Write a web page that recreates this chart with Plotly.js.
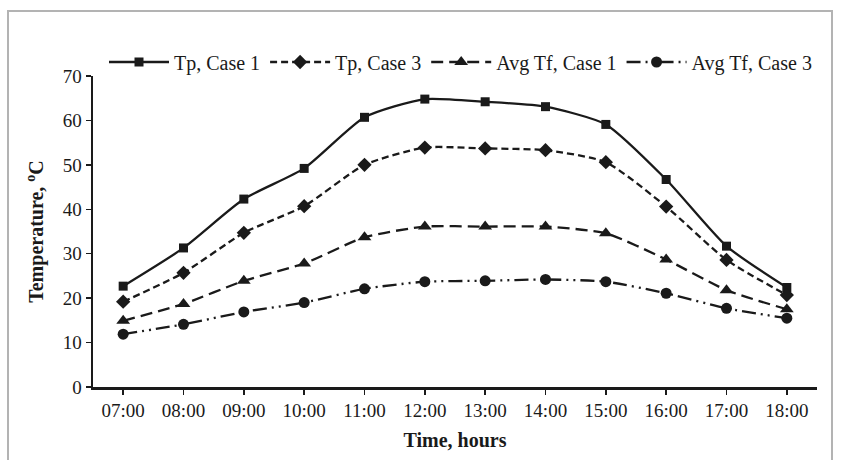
<!DOCTYPE html>
<html>
<head>
<meta charset="utf-8">
<script src="https://cdn.plot.ly/plotly-3.0.1.min.js"></script>
<style>html,body{margin:0;padding:0;background:#fff;}#chart{width:841px;height:460px;}</style>
</head>
<body>
<div id="chart"></div>
<script>
const hours = ["07:00","08:00","09:00","10:00","11:00","12:00","13:00","14:00","15:00","16:00","17:00","18:00"];
const tpCase1 = [22.7, 31.3, 42.3, 49.2, 60.7, 64.8, 64.2, 63.1, 59.1, 46.7, 31.7, 22.4];
const tpCase3 = [19.2, 25.7, 34.7, 40.7, 50.0, 53.9, 53.7, 53.3, 50.6, 40.6, 28.6, 20.7];
const avgTfCase1 = [14.9, 18.7, 23.9, 27.8, 33.7, 36.1, 36.1, 36.1, 34.6, 28.7, 21.8, 17.5];
const avgTfCase3 = [11.9, 14.1, 16.9, 19.0, 22.1, 23.7, 23.9, 24.2, 23.7, 21.1, 17.7, 15.5];
const seriesNames = ["Tp, Case 1", "Tp, Case 3", "Avg Tf, Case 1", "Avg Tf, Case 3"];

const W = 841, H = 460;
const L = 93, R = 24, T = 76, B = 73;
const pw = W - L - R, ph = H - T - B;
const FONT = "Liberation Serif, Times New Roman, serif";

function tr(name, y, dash, symbol, size) {
  return {
    x: hours, y: y, name: name, type: 'scatter', mode: 'lines+markers',
    line: {color: '#1a1a1a', width: 2.3, dash: dash, shape: 'spline', smoothing: 0.6},
    marker: {symbol: symbol, size: size, color: '#1a1a1a'},
    cliponaxis: false
  };
}
const data = [
  tr(seriesNames[0], tpCase1, 'solid', 'square', 9),
  tr(seriesNames[1], tpCase3, '7px,4px', 'diamond', 11),
  tr(seriesNames[2], avgTfCase1, '12px,6px', 'triangle-up', 12),
  tr(seriesNames[3], avgTfCase3, '14px,5px,2px,5px,2px,5px', 'circle', 11)
];

const px2x = p => (p - L) / pw;
const px2y = p => (H - B - p) / ph;

const layout = {
  width: W, height: H,
  margin: {l: L, r: R, t: T, b: B, pad: 0},
  paper_bgcolor: '#fff', plot_bgcolor: '#fff',
  font: {family: FONT, size: 19, color: '#1a1a1a'},
  showlegend: true,
  legend: {orientation: 'h', x: px2x(104), xanchor: 'left', y: px2y(62), yanchor: 'middle',
           font: {family: FONT, size: 20, color: '#1a1a1a'}, itemwidth: 60, traceorder: 'normal',
           bgcolor: 'rgba(0,0,0,0)'},
  xaxis: {
    type: 'category', range: [-0.5, hours.length - 0.5],
    showline: true, linecolor: '#1a1a1a', linewidth: 2.5, mirror: false,
    ticks: 'outside', ticklen: 5, tickwidth: 1.5, tickcolor: '#1a1a1a',
    showgrid: false, zeroline: false,
    tickfont: {family: FONT, size: 19, color: '#1a1a1a'},
    title: {text: '<b>Time, hours</b>', font: {family: FONT, size: 20, color: '#1a1a1a'}, standoff: 13}
  },
  yaxis: {
    range: [0, 70], dtick: 10,
    showline: true, linecolor: '#1a1a1a', linewidth: 2.5,
    ticks: 'outside', ticklen: 5, tickwidth: 1.5, tickcolor: '#1a1a1a',
    showgrid: false, zeroline: false,
    tickfont: {family: FONT, size: 19, color: '#1a1a1a'},
    title: {text: '<b>Temperature, <sup>o</sup>C</b>', font: {family: FONT, size: 20, color: '#1a1a1a'}, standoff: 14}
  },
  shapes: [{
    type: 'rect', xref: 'paper', yref: 'paper',
    x0: px2x(8), x1: px2x(832), y0: px2y(470), y1: px2y(11),
    line: {color: '#b3b3b3', width: 2}, fillcolor: 'rgba(0,0,0,0)', layer: 'below'
  }]
};

Plotly.newPlot('chart', data, layout, {displayModeBar: false, staticPlot: true});
</script>
</body>
</html>
